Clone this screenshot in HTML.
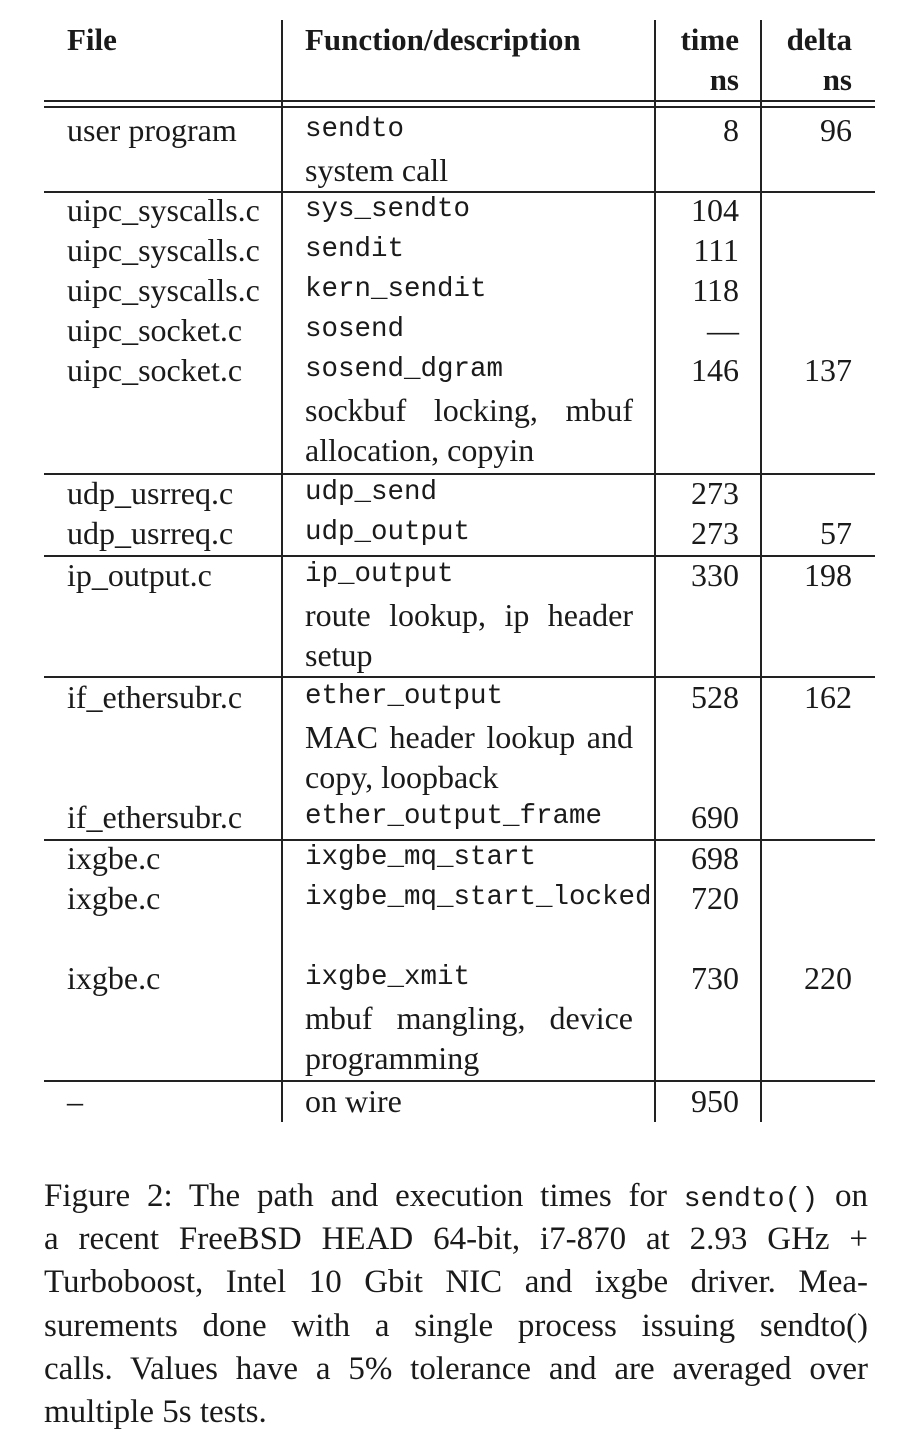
<!DOCTYPE html>
<html><head><style>
html,body{margin:0;padding:0;background:#fff;}
body{width:912px;height:1448px;position:relative;overflow:hidden;font-family:"Liberation Serif",serif;color:#1a1a1a;}
.t{position:absolute;font-size:32px;line-height:40px;white-space:nowrap;}
.m{font-family:"Liberation Mono",monospace;font-size:27.5px;}
.b{font-weight:bold;font-size:31px;}
.r{text-align:right;}
.hl{position:absolute;left:44px;width:831px;height:2px;background:#222;}
.vl{position:absolute;top:20px;width:2px;height:1102px;background:#222;}
.j{position:absolute;white-space:nowrap;text-align:justify;text-align-last:justify;}
.cap{position:absolute;left:44px;width:824px;font-size:33px;line-height:43px;white-space:nowrap;text-align:justify;text-align-last:justify;}
.capl{text-align-last:left;}
.cm{font-family:"Liberation Mono",monospace;font-size:28px;}
</style></head><body>
<div class="vl" style="left:281px"></div>
<div class="vl" style="left:654px"></div>
<div class="vl" style="left:760px"></div>
<div class="hl" style="top:100px"></div>
<div class="hl" style="top:106px"></div>
<div class="hl" style="top:191px"></div>
<div class="hl" style="top:473px"></div>
<div class="hl" style="top:555px"></div>
<div class="hl" style="top:676px"></div>
<div class="hl" style="top:839px"></div>
<div class="hl" style="top:1080px"></div>

<div class="t b" style="left:67px;top:20px">File</div>
<div class="t b" style="left:305px;top:20px">Function/description</div>
<div class="t b r" style="left:660px;width:79px;top:20px">time</div>
<div class="t b r" style="left:660px;width:79px;top:60px">ns</div>
<div class="t b r" style="left:770px;width:82px;top:20px">delta</div>
<div class="t b r" style="left:770px;width:82px;top:60px">ns</div>

<div class="t" style="left:67px;top:110px">user program</div>
<div class="t" style="left:67px;top:190px">uipc_syscalls.c</div>
<div class="t" style="left:67px;top:230px">uipc_syscalls.c</div>
<div class="t" style="left:67px;top:270px">uipc_syscalls.c</div>
<div class="t" style="left:67px;top:310px">uipc_socket.c</div>
<div class="t" style="left:67px;top:350px">uipc_socket.c</div>
<div class="t" style="left:67px;top:473px">udp_usrreq.c</div>
<div class="t" style="left:67px;top:513px">udp_usrreq.c</div>
<div class="t" style="left:67px;top:555px">ip_output.c</div>
<div class="t" style="left:67px;top:677px">if_ethersubr.c</div>
<div class="t" style="left:67px;top:797px">if_ethersubr.c</div>
<div class="t" style="left:67px;top:838px">ixgbe.c</div>
<div class="t" style="left:67px;top:878px">ixgbe.c</div>
<div class="t" style="left:67px;top:958px">ixgbe.c</div>
<div class="t" style="left:67px;top:1081px">–</div>

<div class="t m" style="left:305px;top:110px">sendto</div>
<div class="t" style="left:305px;top:150px">system call</div>
<div class="t m" style="left:305px;top:190px">sys_sendto</div>
<div class="t m" style="left:305px;top:230px">sendit</div>
<div class="t m" style="left:305px;top:270px">kern_sendit</div>
<div class="t m" style="left:305px;top:310px">sosend</div>
<div class="t m" style="left:305px;top:350px">sosend_dgram</div>
<div class="t j" style="left:305px;width:328px;top:390px">sockbuf locking, mbuf</div>
<div class="t" style="left:305px;top:430px">allocation, copyin</div>
<div class="t m" style="left:305px;top:473px">udp_send</div>
<div class="t m" style="left:305px;top:513px">udp_output</div>
<div class="t m" style="left:305px;top:555px">ip_output</div>
<div class="t j" style="left:305px;width:328px;top:595px">route lookup, ip header</div>
<div class="t" style="left:305px;top:635px">setup</div>
<div class="t m" style="left:305px;top:677px">ether_output</div>
<div class="t j" style="left:305px;width:328px;top:717px">MAC header lookup and</div>
<div class="t" style="left:305px;top:757px">copy, loopback</div>
<div class="t m" style="left:305px;top:797px">ether_output_frame</div>
<div class="t m" style="left:305px;top:838px">ixgbe_mq_start</div>
<div class="t m" style="left:305px;top:878px">ixgbe_mq_start_locked</div>
<div class="t m" style="left:305px;top:958px">ixgbe_xmit</div>
<div class="t j" style="left:305px;width:328px;top:998px">mbuf mangling, device</div>
<div class="t" style="left:305px;top:1038px">programming</div>
<div class="t" style="left:305px;top:1081px">on wire</div>

<div class="t r" style="left:660px;width:79px;top:110px">8</div>
<div class="t r" style="left:660px;width:79px;top:190px">104</div>
<div class="t r" style="left:660px;width:79px;top:230px">111</div>
<div class="t r" style="left:660px;width:79px;top:270px">118</div>
<div class="t r" style="left:660px;width:79px;top:310px">—</div>
<div class="t r" style="left:660px;width:79px;top:350px">146</div>
<div class="t r" style="left:660px;width:79px;top:473px">273</div>
<div class="t r" style="left:660px;width:79px;top:513px">273</div>
<div class="t r" style="left:660px;width:79px;top:555px">330</div>
<div class="t r" style="left:660px;width:79px;top:677px">528</div>
<div class="t r" style="left:660px;width:79px;top:797px">690</div>
<div class="t r" style="left:660px;width:79px;top:838px">698</div>
<div class="t r" style="left:660px;width:79px;top:878px">720</div>
<div class="t r" style="left:660px;width:79px;top:958px">730</div>
<div class="t r" style="left:660px;width:79px;top:1081px">950</div>

<div class="t r" style="left:770px;width:82px;top:110px">96</div>
<div class="t r" style="left:770px;width:82px;top:350px">137</div>
<div class="t r" style="left:770px;width:82px;top:513px">57</div>
<div class="t r" style="left:770px;width:82px;top:555px">198</div>
<div class="t r" style="left:770px;width:82px;top:677px">162</div>
<div class="t r" style="left:770px;width:82px;top:958px">220</div>

<div class="cap" style="top:1175px">Figure 2: The path and execution times for <span class="cm">sendto()</span> on</div>
<div class="cap" style="top:1218px">a recent FreeBSD HEAD 64-bit, i7-870 at 2.93 GHz +</div>
<div class="cap" style="top:1261px">Turboboost, Intel 10 Gbit NIC and ixgbe driver. Mea-</div>
<div class="cap" style="top:1305px">surements done with a single process issuing sendto()</div>
<div class="cap" style="top:1348px">calls. Values have a 5% tolerance and are averaged over</div>
<div class="cap capl" style="top:1391px">multiple 5s tests.</div>
</body></html>
